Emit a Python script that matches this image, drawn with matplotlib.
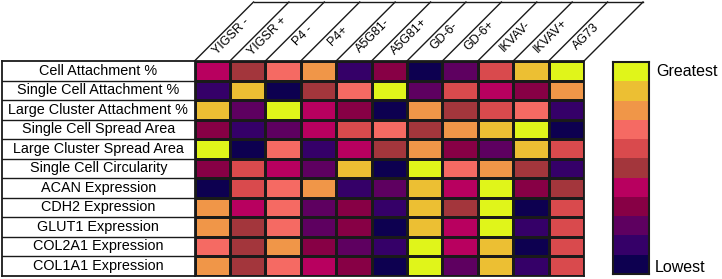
import numpy as np
import matplotlib
matplotlib.use("Agg")
import matplotlib.pyplot as plt
from matplotlib.colors import ListedColormap, BoundaryNorm

plt.rcParams['font.family'] = ['Liberation Sans', 'DejaVu Sans']

# colonne (peptidi) e righe (misure)
columns = ["YIGSR -", "YIGSR +", "P4 -", "P4+", "A5G81-", "A5G81+",
           "GD-6-", "GD-6+", "IKVAV-", "IKVAV+", "AG73"]
rows = ["Cell Attachment %", "Single Cell Attachment %",
        "Large Cluster Attachment %", "Single Cell Spread Area",
        "Large Cluster Spread Area", "Single Cell Circularity",
        "ACAN Expression", "CDH2 Expression", "GLUT1 Expression",
        "COL2A1 Expression", "COL1A1 Expression"]

# rank 1 = lowest, 11 = greatest
ranks = [
    [5, 6, 8, 9, 2, 4, 1, 3, 7, 10, 11],
    [2, 10, 1, 6, 8, 11, 3, 7, 5, 4, 9],
    [10, 3, 11, 5, 4, 1, 9, 6, 7, 8, 2],
    [4, 2, 3, 5, 7, 8, 6, 9, 10, 11, 1],
    [11, 1, 8, 2, 5, 6, 9, 4, 3, 10, 7],
    [4, 7, 5, 3, 10, 1, 11, 8, 9, 6, 2],
    [1, 7, 8, 9, 2, 3, 10, 5, 11, 4, 6],
    [9, 5, 8, 3, 4, 2, 10, 6, 11, 1, 7],
    [9, 6, 8, 3, 4, 1, 10, 5, 11, 2, 7],
    [8, 6, 9, 4, 3, 2, 11, 5, 10, 1, 7],
    [9, 6, 8, 5, 4, 1, 11, 3, 10, 2, 7],
]

level_colors = ["#0d0050", "#350068", "#5e0060", "#870045", "#b8005f",
                "#a3363c", "#d94a4d", "#f56a63", "#f09648", "#ecbf33",
                "#e0f51a"]

data = np.array(ranks)
n_rows, n_cols = data.shape
cmap = ListedColormap(level_colors)
norm = BoundaryNorm(np.arange(0.5, len(level_colors) + 1.5), cmap.N)

W, H = 722, 279
fig = plt.figure(figsize=(W / 100, H / 100), dpi=100)

# posizioni in pixel
hx0, hx1, hy0, hy1 = 194.5, 584.0, 61.0, 275.5
lx0 = 2.0
slant = 59.0
lw = 1.0
edge = "#1a1a1a"

def fr(x0, y0, x1, y1):
    return [x0 / W, 1 - y1 / H, (x1 - x0) / W, (y1 - y0) / H]

########################################
# heatmap
########################################
ax = fig.add_axes(fr(hx0, hy0, hx1, hy1))
ax.pcolormesh(np.arange(n_cols + 1), np.arange(n_rows + 1), data,
              cmap=cmap, norm=norm, edgecolors=edge, linewidth=lw)
ax.set_xlim(0, n_cols)
ax.set_ylim(n_rows, 0)
ax.set_xticks([])
ax.set_yticks([])
for s in ax.spines.values():
    s.set_linewidth(1.3)
    s.set_color(edge)

########################################
# intestazioni inclinate
########################################
colw = (hx1 - hx0) / n_cols
rowh = (hy1 - hy0) / n_rows
dxc = slant / colw
dyr = slant / rowh
for i in range(n_cols + 1):
    ax.plot([i, i + dxc], [0, -dyr], color=edge, lw=lw, clip_on=False)
ax.plot([dxc, n_cols + dxc], [-dyr, -dyr], color=edge, lw=lw, clip_on=False)
t = 0.42
for i, name in enumerate(columns):
    ax.text(i + 0.5 + t * dxc - 0.15, -t * dyr, name, rotation=45,
            rotation_mode='anchor', ha='center', va='center', fontsize=9,
            clip_on=False)

########################################
# etichette delle righe
########################################
axl = fig.add_axes(fr(lx0, hy0, hx0, hy1))
axl.set_xlim(0, 1)
axl.set_ylim(n_rows, 0)
axl.set_xticks([])
axl.set_yticks([])
for s in axl.spines.values():
    s.set_linewidth(1.3)
    s.set_color(edge)
for j in range(1, n_rows):
    axl.axhline(j, color=edge, lw=lw)
for j, name in enumerate(rows):
    axl.text(0.5, j + 0.5, name, ha='center', va='center', fontsize=10.4)

########################################
# barra dei colori
########################################
axc = fig.add_axes(fr(612.5, 62.0, 649.0, 274.0))
axc.imshow(np.arange(len(level_colors), 0, -1).reshape(-1, 1), cmap=cmap,
           norm=norm, aspect='auto', interpolation='nearest')
axc.set_xticks([])
axc.set_yticks([])
for s in axc.spines.values():
    s.set_linewidth(1.5)
    s.set_color(edge)
fig.text(656 / W, 1 - 72 / H, "Greatest", ha='left', va='center', fontsize=11.5)
fig.text(655 / W, 1 - 267 / H, "Lowest", ha='left', va='center', fontsize=11.5)

fig.savefig("out.png", dpi=100)
